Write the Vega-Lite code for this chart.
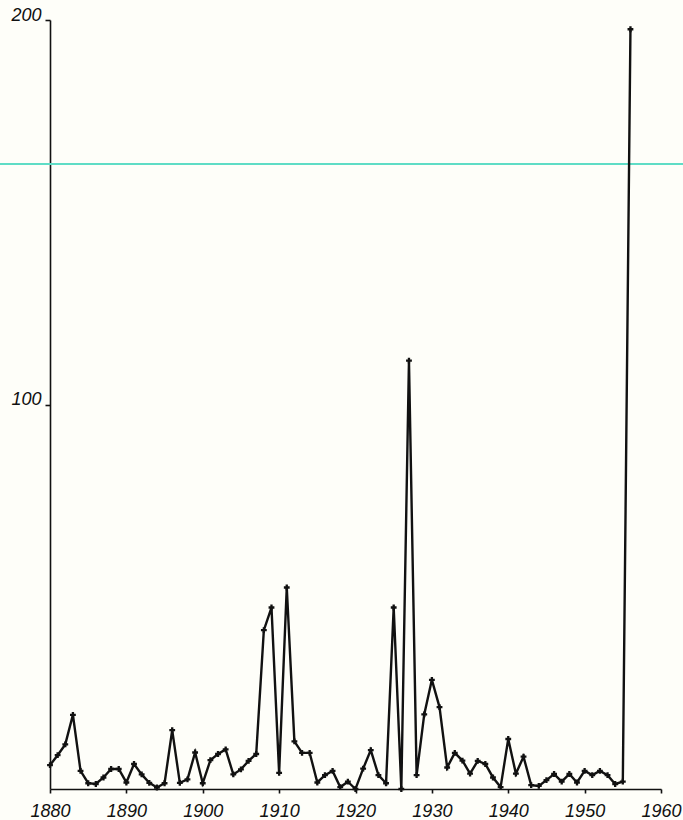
{
  "$schema": "https://vega.github.io/schema/vega-lite/v6.json",
  "autosize": "none",
  "width": 611,
  "height": 769,
  "padding": {"left": 50, "top": 20, "right": 22, "bottom": 31},
  "background": "#fefef9",
  "config": {
    "view": {"stroke": null},
    "axis": {
      "grid": false,
      "domainColor": "#111",
      "domainWidth": 1.6,
      "tickColor": "#111",
      "tickWidth": 1.6,
      "labelFont": "Liberation Sans",
      "labelFontStyle": "italic",
      "labelFontSize": 18,
      "labelColor": "#111",
      "title": null
    }
  },
  "data": {
    "values": [
      {"year": 1880, "v": 6.2}, {"year": 1881, "v": 8.8}, {"year": 1882, "v": 11.6}, {"year": 1883, "v": 19.3},
      {"year": 1884, "v": 4.7}, {"year": 1885, "v": 1.5}, {"year": 1886, "v": 1.3}, {"year": 1887, "v": 3.0},
      {"year": 1888, "v": 5.2}, {"year": 1889, "v": 5.2}, {"year": 1890, "v": 1.7}, {"year": 1891, "v": 6.5},
      {"year": 1892, "v": 3.8}, {"year": 1893, "v": 1.6}, {"year": 1894, "v": 0.4}, {"year": 1895, "v": 1.5},
      {"year": 1896, "v": 15.3}, {"year": 1897, "v": 1.6}, {"year": 1898, "v": 2.5}, {"year": 1899, "v": 9.5},
      {"year": 1900, "v": 1.5}, {"year": 1901, "v": 7.5}, {"year": 1902, "v": 9.1}, {"year": 1903, "v": 10.3},
      {"year": 1904, "v": 3.8}, {"year": 1905, "v": 5.1}, {"year": 1906, "v": 7.3}, {"year": 1907, "v": 9.1},
      {"year": 1908, "v": 41.3}, {"year": 1909, "v": 47.2}, {"year": 1910, "v": 4.2}, {"year": 1911, "v": 52.4},
      {"year": 1912, "v": 12.4}, {"year": 1913, "v": 9.4}, {"year": 1914, "v": 9.4}, {"year": 1915, "v": 1.7},
      {"year": 1916, "v": 3.6}, {"year": 1917, "v": 4.7}, {"year": 1918, "v": 0.5}, {"year": 1919, "v": 1.9},
      {"year": 1920, "v": 0.0}, {"year": 1921, "v": 5.3}, {"year": 1922, "v": 10.1}, {"year": 1923, "v": 3.6},
      {"year": 1924, "v": 1.5}, {"year": 1925, "v": 47.2}, {"year": 1926, "v": 0.0}, {"year": 1927, "v": 111.4},
      {"year": 1928, "v": 3.6}, {"year": 1929, "v": 19.4}, {"year": 1930, "v": 28.4}, {"year": 1931, "v": 21.3},
      {"year": 1932, "v": 5.6}, {"year": 1933, "v": 9.4}, {"year": 1934, "v": 7.4}, {"year": 1935, "v": 4.0},
      {"year": 1936, "v": 7.3}, {"year": 1937, "v": 6.5}, {"year": 1938, "v": 3.0}, {"year": 1939, "v": 0.5},
      {"year": 1940, "v": 13.0}, {"year": 1941, "v": 4.0}, {"year": 1942, "v": 8.4}, {"year": 1943, "v": 1.0},
      {"year": 1944, "v": 0.8}, {"year": 1945, "v": 2.3}, {"year": 1946, "v": 3.9}, {"year": 1947, "v": 1.9},
      {"year": 1948, "v": 3.9}, {"year": 1949, "v": 1.7}, {"year": 1950, "v": 4.7}, {"year": 1951, "v": 3.6},
      {"year": 1952, "v": 4.7}, {"year": 1953, "v": 3.6}, {"year": 1954, "v": 1.3}, {"year": 1955, "v": 1.9},
      {"year": 1956, "v": 197.6}
    ]
  },
  "layer": [
    {
      "mark": {"type": "rule", "color": "#5fdcc6", "strokeWidth": 1.3, "clip": false},
      "encoding": {
        "y": {"datum": 162.5, "type": "quantitative"},
        "x": {"datum": 1873.4, "type": "quantitative"},
        "x2": {"datum": 1963}
      }
    },
    {
      "mark": {"type": "line", "color": "#111", "strokeWidth": 2.4, "strokeJoin": "miter"},
      "encoding": {
        "x": {
          "field": "year", "type": "quantitative",
          "scale": {"domain": [1880, 1960], "nice": false, "zero": false},
          "axis": {"values": [1880, 1890, 1900, 1910, 1920, 1930, 1940, 1950, 1960], "format": "d", "tickSize": 4, "labelPadding": 9, "labelFlush": false}
        },
        "y": {
          "field": "v", "type": "quantitative",
          "scale": {"domain": [0, 200], "nice": false},
          "axis": {"values": [100, 200], "tickSize": 5, "labelPadding": 4, "labelBaseline": "alphabetic"}
        }
      }
    },
    {
      "mark": {"type": "point", "shape": "cross", "size": 34, "filled": true, "color": "#111", "opacity": 1},
      "encoding": {
        "x": {"field": "year", "type": "quantitative"},
        "y": {"field": "v", "type": "quantitative"}
      }
    }
  ]
}
